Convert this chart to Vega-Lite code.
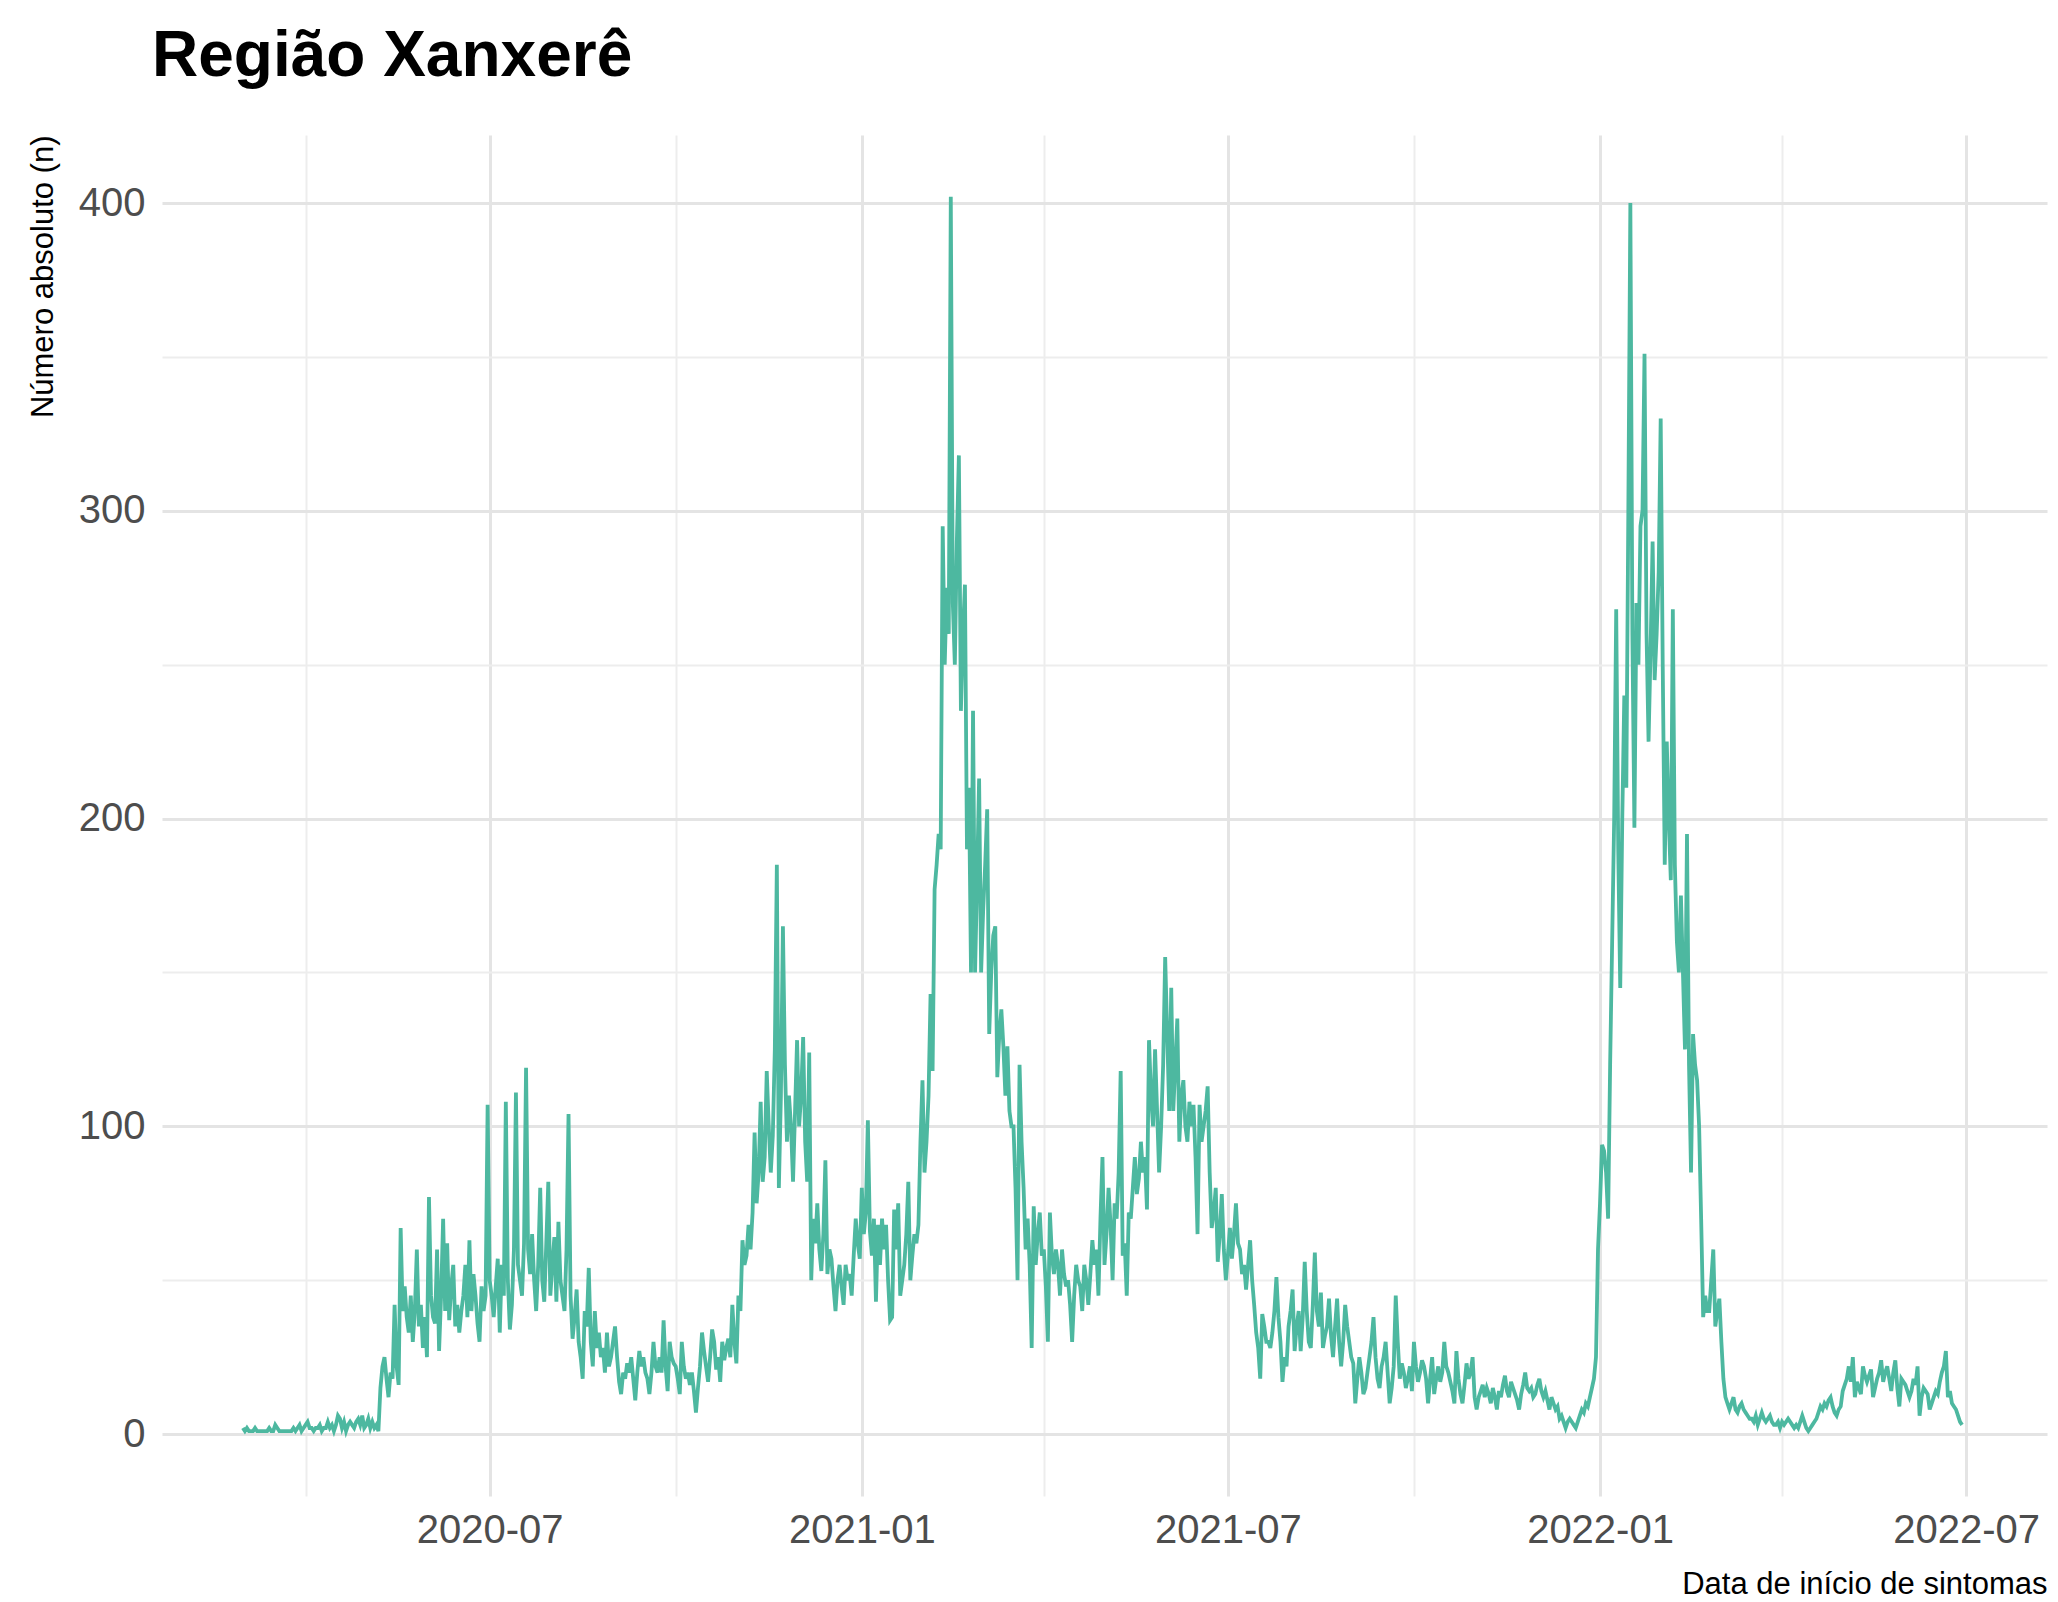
{
"$schema": "https://vega.github.io/schema/vega-lite/v6.json",
"width": 1885, "height": 1361,
"autosize": {"type": "none"},
"padding": {"left": 162, "top": 135, "right": 11, "bottom": 106},
"background": "white",
"title": {"text": "Região Xanxerê", "anchor": "start", "frame": "group", "font": "Liberation Sans Narrow, Liberation Sans, Arial, sans-serif", "fontSize": 64, "fontWeight": "bold", "color": "#000000", "offset": 55, "dy": 60, "baseline": "alphabetic", "dx": -10},
"config": {"view": {"stroke": null}, "axis": {"domain": false, "ticks": false, "tickSize": 0, "labelFont": "Liberation Sans Narrow, Liberation Sans, Arial, sans-serif", "titleFont": "Liberation Sans Narrow, Liberation Sans, Arial, sans-serif", "labelColor": "#4d4d4d", "titleColor": "#000000", "titleFontWeight": "normal", "labelFontSize": 40, "titleFontSize": 31}},
"data": {"values": [
{"d":"2020-03-01","n":2},{"d":"2020-03-02","n":1},{"d":"2020-03-03","n":2},{"d":"2020-03-04","n":1},{"d":"2020-03-05","n":1},{"d":"2020-03-06","n":1},{"d":"2020-03-07","n":2},{"d":"2020-03-08","n":1},{"d":"2020-03-09","n":1},{"d":"2020-03-10","n":1},{"d":"2020-03-11","n":1},{"d":"2020-03-12","n":1},{"d":"2020-03-13","n":1},{"d":"2020-03-14","n":2},{"d":"2020-03-15","n":1},{"d":"2020-03-16","n":1},{"d":"2020-03-17","n":3},{"d":"2020-03-18","n":2},{"d":"2020-03-19","n":1},{"d":"2020-03-20","n":1},{"d":"2020-03-21","n":1},{"d":"2020-03-22","n":1},{"d":"2020-03-23","n":1},{"d":"2020-03-24","n":1},{"d":"2020-03-25","n":1},{"d":"2020-03-26","n":2},{"d":"2020-03-27","n":1},{"d":"2020-03-28","n":2},{"d":"2020-03-29","n":3},{"d":"2020-03-30","n":1},{"d":"2020-03-31","n":2},
{"d":"2020-04-01","n":3},{"d":"2020-04-02","n":4},{"d":"2020-04-03","n":2},{"d":"2020-04-04","n":2},{"d":"2020-04-05","n":1},{"d":"2020-04-06","n":2},{"d":"2020-04-07","n":2},{"d":"2020-04-08","n":3},{"d":"2020-04-09","n":1},{"d":"2020-04-10","n":2},{"d":"2020-04-11","n":2},{"d":"2020-04-12","n":4},{"d":"2020-04-13","n":2},{"d":"2020-04-14","n":3},{"d":"2020-04-15","n":1},{"d":"2020-04-16","n":3},{"d":"2020-04-17","n":6},{"d":"2020-04-18","n":5},{"d":"2020-04-19","n":2},{"d":"2020-04-20","n":4},{"d":"2020-04-21","n":1},{"d":"2020-04-22","n":3},{"d":"2020-04-23","n":4},{"d":"2020-04-24","n":3},{"d":"2020-04-25","n":2},{"d":"2020-04-26","n":4},{"d":"2020-04-27","n":5},{"d":"2020-04-28","n":3},{"d":"2020-04-29","n":6},{"d":"2020-04-30","n":2},
{"d":"2020-05-01","n":3},{"d":"2020-05-02","n":5},{"d":"2020-05-03","n":2},{"d":"2020-05-04","n":4},{"d":"2020-05-05","n":2},{"d":"2020-05-06","n":3},{"d":"2020-05-07","n":1},{"d":"2020-05-08","n":15},{"d":"2020-05-09","n":22},{"d":"2020-05-10","n":25},{"d":"2020-05-11","n":18},{"d":"2020-05-12","n":12},{"d":"2020-05-13","n":20},{"d":"2020-05-14","n":18},{"d":"2020-05-15","n":42},{"d":"2020-05-16","n":22},{"d":"2020-05-17","n":16},{"d":"2020-05-18","n":67},{"d":"2020-05-19","n":40},{"d":"2020-05-20","n":48},{"d":"2020-05-21","n":38},{"d":"2020-05-22","n":33},{"d":"2020-05-23","n":45},{"d":"2020-05-24","n":30},{"d":"2020-05-25","n":40},{"d":"2020-05-26","n":60},{"d":"2020-05-27","n":35},{"d":"2020-05-28","n":42},{"d":"2020-05-29","n":28},{"d":"2020-05-30","n":38},{"d":"2020-05-31","n":25},
{"d":"2020-06-01","n":77},{"d":"2020-06-02","n":45},{"d":"2020-06-03","n":38},{"d":"2020-06-04","n":36},{"d":"2020-06-05","n":60},{"d":"2020-06-06","n":27},{"d":"2020-06-07","n":45},{"d":"2020-06-08","n":70},{"d":"2020-06-09","n":40},{"d":"2020-06-10","n":62},{"d":"2020-06-11","n":37},{"d":"2020-06-12","n":48},{"d":"2020-06-13","n":55},{"d":"2020-06-14","n":35},{"d":"2020-06-15","n":42},{"d":"2020-06-16","n":33},{"d":"2020-06-17","n":40},{"d":"2020-06-18","n":45},{"d":"2020-06-19","n":55},{"d":"2020-06-20","n":38},{"d":"2020-06-21","n":63},{"d":"2020-06-22","n":40},{"d":"2020-06-23","n":52},{"d":"2020-06-24","n":45},{"d":"2020-06-25","n":36},{"d":"2020-06-26","n":30},{"d":"2020-06-27","n":48},{"d":"2020-06-28","n":40},{"d":"2020-06-29","n":45},{"d":"2020-06-30","n":107},
{"d":"2020-07-01","n":50},{"d":"2020-07-02","n":45},{"d":"2020-07-03","n":38},{"d":"2020-07-04","n":48},{"d":"2020-07-05","n":57},{"d":"2020-07-06","n":33},{"d":"2020-07-07","n":55},{"d":"2020-07-08","n":45},{"d":"2020-07-09","n":108},{"d":"2020-07-10","n":50},{"d":"2020-07-11","n":34},{"d":"2020-07-12","n":42},{"d":"2020-07-13","n":60},{"d":"2020-07-14","n":111},{"d":"2020-07-15","n":55},{"d":"2020-07-16","n":50},{"d":"2020-07-17","n":45},{"d":"2020-07-18","n":62},{"d":"2020-07-19","n":119},{"d":"2020-07-20","n":60},{"d":"2020-07-21","n":52},{"d":"2020-07-22","n":65},{"d":"2020-07-23","n":50},{"d":"2020-07-24","n":40},{"d":"2020-07-25","n":55},{"d":"2020-07-26","n":80},{"d":"2020-07-27","n":50},{"d":"2020-07-28","n":43},{"d":"2020-07-29","n":62},{"d":"2020-07-30","n":82},{"d":"2020-07-31","n":45},
{"d":"2020-08-01","n":55},{"d":"2020-08-02","n":64},{"d":"2020-08-03","n":43},{"d":"2020-08-04","n":69},{"d":"2020-08-05","n":50},{"d":"2020-08-06","n":45},{"d":"2020-08-07","n":40},{"d":"2020-08-08","n":60},{"d":"2020-08-09","n":104},{"d":"2020-08-10","n":45},{"d":"2020-08-11","n":31},{"d":"2020-08-12","n":38},{"d":"2020-08-13","n":47},{"d":"2020-08-14","n":30},{"d":"2020-08-15","n":25},{"d":"2020-08-16","n":18},{"d":"2020-08-17","n":40},{"d":"2020-08-18","n":35},{"d":"2020-08-19","n":54},{"d":"2020-08-20","n":30},{"d":"2020-08-21","n":22},{"d":"2020-08-22","n":40},{"d":"2020-08-23","n":28},{"d":"2020-08-24","n":33},{"d":"2020-08-25","n":25},{"d":"2020-08-26","n":28},{"d":"2020-08-27","n":20},{"d":"2020-08-28","n":33},{"d":"2020-08-29","n":22},{"d":"2020-08-30","n":25},{"d":"2020-08-31","n":30},
{"d":"2020-09-01","n":35},{"d":"2020-09-02","n":25},{"d":"2020-09-03","n":17},{"d":"2020-09-04","n":13},{"d":"2020-09-05","n":20},{"d":"2020-09-06","n":18},{"d":"2020-09-07","n":23},{"d":"2020-09-08","n":20},{"d":"2020-09-09","n":25},{"d":"2020-09-10","n":18},{"d":"2020-09-11","n":11},{"d":"2020-09-12","n":20},{"d":"2020-09-13","n":27},{"d":"2020-09-14","n":22},{"d":"2020-09-15","n":25},{"d":"2020-09-16","n":20},{"d":"2020-09-17","n":18},{"d":"2020-09-18","n":13},{"d":"2020-09-19","n":20},{"d":"2020-09-20","n":30},{"d":"2020-09-21","n":22},{"d":"2020-09-22","n":20},{"d":"2020-09-23","n":25},{"d":"2020-09-24","n":20},{"d":"2020-09-25","n":37},{"d":"2020-09-26","n":22},{"d":"2020-09-27","n":14},{"d":"2020-09-28","n":30},{"d":"2020-09-29","n":25},{"d":"2020-09-30","n":23},
{"d":"2020-10-01","n":22},{"d":"2020-10-02","n":18},{"d":"2020-10-03","n":13},{"d":"2020-10-04","n":30},{"d":"2020-10-05","n":22},{"d":"2020-10-06","n":18},{"d":"2020-10-07","n":20},{"d":"2020-10-08","n":16},{"d":"2020-10-09","n":20},{"d":"2020-10-10","n":14},{"d":"2020-10-11","n":7},{"d":"2020-10-12","n":15},{"d":"2020-10-13","n":22},{"d":"2020-10-14","n":33},{"d":"2020-10-15","n":27},{"d":"2020-10-16","n":22},{"d":"2020-10-17","n":17},{"d":"2020-10-18","n":25},{"d":"2020-10-19","n":34},{"d":"2020-10-20","n":30},{"d":"2020-10-21","n":21},{"d":"2020-10-22","n":25},{"d":"2020-10-23","n":17},{"d":"2020-10-24","n":30},{"d":"2020-10-25","n":24},{"d":"2020-10-26","n":28},{"d":"2020-10-27","n":31},{"d":"2020-10-28","n":25},{"d":"2020-10-29","n":42},{"d":"2020-10-30","n":30},{"d":"2020-10-31","n":23},
{"d":"2020-11-01","n":45},{"d":"2020-11-02","n":40},{"d":"2020-11-03","n":63},{"d":"2020-11-04","n":55},{"d":"2020-11-05","n":58},{"d":"2020-11-06","n":68},{"d":"2020-11-07","n":60},{"d":"2020-11-08","n":72},{"d":"2020-11-09","n":98},{"d":"2020-11-10","n":75},{"d":"2020-11-11","n":85},{"d":"2020-11-12","n":108},{"d":"2020-11-13","n":82},{"d":"2020-11-14","n":90},{"d":"2020-11-15","n":118},{"d":"2020-11-16","n":100},{"d":"2020-11-17","n":85},{"d":"2020-11-18","n":97},{"d":"2020-11-19","n":125},{"d":"2020-11-20","n":185},{"d":"2020-11-21","n":80},{"d":"2020-11-22","n":110},{"d":"2020-11-23","n":165},{"d":"2020-11-24","n":120},{"d":"2020-11-25","n":95},{"d":"2020-11-26","n":110},{"d":"2020-11-27","n":100},{"d":"2020-11-28","n":82},{"d":"2020-11-29","n":105},{"d":"2020-11-30","n":128},
{"d":"2020-12-01","n":100},{"d":"2020-12-02","n":110},{"d":"2020-12-03","n":129},{"d":"2020-12-04","n":95},{"d":"2020-12-05","n":82},{"d":"2020-12-06","n":124},{"d":"2020-12-07","n":50},{"d":"2020-12-08","n":70},{"d":"2020-12-09","n":62},{"d":"2020-12-10","n":75},{"d":"2020-12-11","n":60},{"d":"2020-12-12","n":53},{"d":"2020-12-13","n":65},{"d":"2020-12-14","n":89},{"d":"2020-12-15","n":52},{"d":"2020-12-16","n":60},{"d":"2020-12-17","n":57},{"d":"2020-12-18","n":48},{"d":"2020-12-19","n":40},{"d":"2020-12-20","n":50},{"d":"2020-12-21","n":55},{"d":"2020-12-22","n":48},{"d":"2020-12-23","n":42},{"d":"2020-12-24","n":55},{"d":"2020-12-25","n":50},{"d":"2020-12-26","n":52},{"d":"2020-12-27","n":45},{"d":"2020-12-28","n":58},{"d":"2020-12-29","n":70},{"d":"2020-12-30","n":62},{"d":"2020-12-31","n":57},
{"d":"2021-01-01","n":80},{"d":"2021-01-02","n":65},{"d":"2021-01-03","n":72},{"d":"2021-01-04","n":102},{"d":"2021-01-05","n":66},{"d":"2021-01-06","n":58},{"d":"2021-01-07","n":70},{"d":"2021-01-08","n":43},{"d":"2021-01-09","n":68},{"d":"2021-01-10","n":55},{"d":"2021-01-11","n":70},{"d":"2021-01-12","n":60},{"d":"2021-01-13","n":68},{"d":"2021-01-14","n":50},{"d":"2021-01-15","n":37},{"d":"2021-01-16","n":38},{"d":"2021-01-17","n":73},{"d":"2021-01-18","n":60},{"d":"2021-01-19","n":75},{"d":"2021-01-20","n":45},{"d":"2021-01-21","n":50},{"d":"2021-01-22","n":55},{"d":"2021-01-23","n":65},{"d":"2021-01-24","n":82},{"d":"2021-01-25","n":50},{"d":"2021-01-26","n":58},{"d":"2021-01-27","n":65},{"d":"2021-01-28","n":62},{"d":"2021-01-29","n":68},{"d":"2021-01-30","n":95},{"d":"2021-01-31","n":115},
{"d":"2021-02-01","n":85},{"d":"2021-02-02","n":95},{"d":"2021-02-03","n":110},{"d":"2021-02-04","n":143},{"d":"2021-02-05","n":118},{"d":"2021-02-06","n":177},{"d":"2021-02-07","n":185},{"d":"2021-02-08","n":195},{"d":"2021-02-09","n":190},{"d":"2021-02-10","n":295},{"d":"2021-02-11","n":250},{"d":"2021-02-12","n":275},{"d":"2021-02-13","n":260},{"d":"2021-02-14","n":402},{"d":"2021-02-15","n":270},{"d":"2021-02-16","n":250},{"d":"2021-02-17","n":290},{"d":"2021-02-18","n":318},{"d":"2021-02-19","n":235},{"d":"2021-02-20","n":260},{"d":"2021-02-21","n":276},{"d":"2021-02-22","n":190},{"d":"2021-02-23","n":210},{"d":"2021-02-24","n":150},{"d":"2021-02-25","n":235},{"d":"2021-02-26","n":150},{"d":"2021-02-27","n":180},{"d":"2021-02-28","n":213},
{"d":"2021-03-01","n":150},{"d":"2021-03-02","n":170},{"d":"2021-03-03","n":185},{"d":"2021-03-04","n":203},{"d":"2021-03-05","n":130},{"d":"2021-03-06","n":150},{"d":"2021-03-07","n":162},{"d":"2021-03-08","n":165},{"d":"2021-03-09","n":116},{"d":"2021-03-10","n":130},{"d":"2021-03-11","n":138},{"d":"2021-03-12","n":126},{"d":"2021-03-13","n":110},{"d":"2021-03-14","n":126},{"d":"2021-03-15","n":105},{"d":"2021-03-16","n":100},{"d":"2021-03-17","n":100},{"d":"2021-03-18","n":80},{"d":"2021-03-19","n":50},{"d":"2021-03-20","n":120},{"d":"2021-03-21","n":95},{"d":"2021-03-22","n":80},{"d":"2021-03-23","n":60},{"d":"2021-03-24","n":70},{"d":"2021-03-25","n":55},{"d":"2021-03-26","n":28},{"d":"2021-03-27","n":74},{"d":"2021-03-28","n":55},{"d":"2021-03-29","n":65},{"d":"2021-03-30","n":72},{"d":"2021-03-31","n":58},
{"d":"2021-04-01","n":60},{"d":"2021-04-02","n":48},{"d":"2021-04-03","n":30},{"d":"2021-04-04","n":72},{"d":"2021-04-05","n":58},{"d":"2021-04-06","n":52},{"d":"2021-04-07","n":60},{"d":"2021-04-08","n":55},{"d":"2021-04-09","n":45},{"d":"2021-04-10","n":60},{"d":"2021-04-11","n":52},{"d":"2021-04-12","n":48},{"d":"2021-04-13","n":50},{"d":"2021-04-14","n":42},{"d":"2021-04-15","n":30},{"d":"2021-04-16","n":45},{"d":"2021-04-17","n":55},{"d":"2021-04-18","n":50},{"d":"2021-04-19","n":48},{"d":"2021-04-20","n":40},{"d":"2021-04-21","n":55},{"d":"2021-04-22","n":50},{"d":"2021-04-23","n":42},{"d":"2021-04-24","n":52},{"d":"2021-04-25","n":63},{"d":"2021-04-26","n":55},{"d":"2021-04-27","n":60},{"d":"2021-04-28","n":45},{"d":"2021-04-29","n":70},{"d":"2021-04-30","n":90},
{"d":"2021-05-01","n":55},{"d":"2021-05-02","n":65},{"d":"2021-05-03","n":80},{"d":"2021-05-04","n":68},{"d":"2021-05-05","n":50},{"d":"2021-05-06","n":75},{"d":"2021-05-07","n":70},{"d":"2021-05-08","n":85},{"d":"2021-05-09","n":118},{"d":"2021-05-10","n":58},{"d":"2021-05-11","n":62},{"d":"2021-05-12","n":45},{"d":"2021-05-13","n":72},{"d":"2021-05-14","n":70},{"d":"2021-05-15","n":80},{"d":"2021-05-16","n":90},{"d":"2021-05-17","n":78},{"d":"2021-05-18","n":83},{"d":"2021-05-19","n":95},{"d":"2021-05-20","n":85},{"d":"2021-05-21","n":90},{"d":"2021-05-22","n":73},{"d":"2021-05-23","n":128},{"d":"2021-05-24","n":110},{"d":"2021-05-25","n":100},{"d":"2021-05-26","n":125},{"d":"2021-05-27","n":105},{"d":"2021-05-28","n":85},{"d":"2021-05-29","n":100},{"d":"2021-05-30","n":120},{"d":"2021-05-31","n":155},
{"d":"2021-06-01","n":130},{"d":"2021-06-02","n":105},{"d":"2021-06-03","n":145},{"d":"2021-06-04","n":105},{"d":"2021-06-05","n":120},{"d":"2021-06-06","n":135},{"d":"2021-06-07","n":95},{"d":"2021-06-08","n":110},{"d":"2021-06-09","n":115},{"d":"2021-06-10","n":100},{"d":"2021-06-11","n":95},{"d":"2021-06-12","n":108},{"d":"2021-06-13","n":100},{"d":"2021-06-14","n":107},{"d":"2021-06-15","n":90},{"d":"2021-06-16","n":65},{"d":"2021-06-17","n":107},{"d":"2021-06-18","n":95},{"d":"2021-06-19","n":100},{"d":"2021-06-20","n":105},{"d":"2021-06-21","n":113},{"d":"2021-06-22","n":85},{"d":"2021-06-23","n":67},{"d":"2021-06-24","n":72},{"d":"2021-06-25","n":80},{"d":"2021-06-26","n":56},{"d":"2021-06-27","n":65},{"d":"2021-06-28","n":78},{"d":"2021-06-29","n":60},{"d":"2021-06-30","n":50},
{"d":"2021-07-01","n":58},{"d":"2021-07-02","n":67},{"d":"2021-07-03","n":57},{"d":"2021-07-04","n":65},{"d":"2021-07-05","n":75},{"d":"2021-07-06","n":62},{"d":"2021-07-07","n":60},{"d":"2021-07-08","n":52},{"d":"2021-07-09","n":55},{"d":"2021-07-10","n":47},{"d":"2021-07-11","n":55},{"d":"2021-07-12","n":63},{"d":"2021-07-13","n":50},{"d":"2021-07-14","n":42},{"d":"2021-07-15","n":33},{"d":"2021-07-16","n":28},{"d":"2021-07-17","n":18},{"d":"2021-07-18","n":39},{"d":"2021-07-19","n":35},{"d":"2021-07-20","n":30},{"d":"2021-07-21","n":30},{"d":"2021-07-22","n":28},{"d":"2021-07-23","n":33},{"d":"2021-07-24","n":40},{"d":"2021-07-25","n":51},{"d":"2021-07-26","n":38},{"d":"2021-07-27","n":30},{"d":"2021-07-28","n":17},{"d":"2021-07-29","n":25},{"d":"2021-07-30","n":22},{"d":"2021-07-31","n":35},
{"d":"2021-08-01","n":40},{"d":"2021-08-02","n":47},{"d":"2021-08-03","n":27},{"d":"2021-08-04","n":35},{"d":"2021-08-05","n":40},{"d":"2021-08-06","n":27},{"d":"2021-08-07","n":38},{"d":"2021-08-08","n":56},{"d":"2021-08-09","n":40},{"d":"2021-08-10","n":30},{"d":"2021-08-11","n":28},{"d":"2021-08-12","n":42},{"d":"2021-08-13","n":59},{"d":"2021-08-14","n":40},{"d":"2021-08-15","n":35},{"d":"2021-08-16","n":46},{"d":"2021-08-17","n":28},{"d":"2021-08-18","n":32},{"d":"2021-08-19","n":35},{"d":"2021-08-20","n":44},{"d":"2021-08-21","n":32},{"d":"2021-08-22","n":25},{"d":"2021-08-23","n":35},{"d":"2021-08-24","n":44},{"d":"2021-08-25","n":30},{"d":"2021-08-26","n":22},{"d":"2021-08-27","n":30},{"d":"2021-08-28","n":42},{"d":"2021-08-29","n":35},{"d":"2021-08-30","n":30},{"d":"2021-08-31","n":25},
{"d":"2021-09-01","n":23},{"d":"2021-09-02","n":10},{"d":"2021-09-03","n":18},{"d":"2021-09-04","n":25},{"d":"2021-09-05","n":20},{"d":"2021-09-06","n":13},{"d":"2021-09-07","n":15},{"d":"2021-09-08","n":20},{"d":"2021-09-09","n":25},{"d":"2021-09-10","n":30},{"d":"2021-09-11","n":38},{"d":"2021-09-12","n":25},{"d":"2021-09-13","n":18},{"d":"2021-09-14","n":15},{"d":"2021-09-15","n":22},{"d":"2021-09-16","n":25},{"d":"2021-09-17","n":30},{"d":"2021-09-18","n":20},{"d":"2021-09-19","n":10},{"d":"2021-09-20","n":15},{"d":"2021-09-21","n":22},{"d":"2021-09-22","n":45},{"d":"2021-09-23","n":30},{"d":"2021-09-24","n":18},{"d":"2021-09-25","n":23},{"d":"2021-09-26","n":20},{"d":"2021-09-27","n":15},{"d":"2021-09-28","n":18},{"d":"2021-09-29","n":22},{"d":"2021-09-30","n":14},
{"d":"2021-10-01","n":30},{"d":"2021-10-02","n":22},{"d":"2021-10-03","n":17},{"d":"2021-10-04","n":20},{"d":"2021-10-05","n":24},{"d":"2021-10-06","n":22},{"d":"2021-10-07","n":18},{"d":"2021-10-08","n":10},{"d":"2021-10-09","n":18},{"d":"2021-10-10","n":25},{"d":"2021-10-11","n":13},{"d":"2021-10-12","n":18},{"d":"2021-10-13","n":22},{"d":"2021-10-14","n":17},{"d":"2021-10-15","n":20},{"d":"2021-10-16","n":30},{"d":"2021-10-17","n":22},{"d":"2021-10-18","n":20},{"d":"2021-10-19","n":17},{"d":"2021-10-20","n":14},{"d":"2021-10-21","n":10},{"d":"2021-10-22","n":27},{"d":"2021-10-23","n":18},{"d":"2021-10-24","n":13},{"d":"2021-10-25","n":10},{"d":"2021-10-26","n":16},{"d":"2021-10-27","n":23},{"d":"2021-10-28","n":18},{"d":"2021-10-29","n":20},{"d":"2021-10-30","n":25},{"d":"2021-10-31","n":12},
{"d":"2021-11-01","n":8},{"d":"2021-11-02","n":12},{"d":"2021-11-03","n":14},{"d":"2021-11-04","n":16},{"d":"2021-11-05","n":12},{"d":"2021-11-06","n":15},{"d":"2021-11-07","n":13},{"d":"2021-11-08","n":10},{"d":"2021-11-09","n":15},{"d":"2021-11-10","n":12},{"d":"2021-11-11","n":8},{"d":"2021-11-12","n":14},{"d":"2021-11-13","n":12},{"d":"2021-11-14","n":16},{"d":"2021-11-15","n":19},{"d":"2021-11-16","n":14},{"d":"2021-11-17","n":12},{"d":"2021-11-18","n":17},{"d":"2021-11-19","n":15},{"d":"2021-11-20","n":13},{"d":"2021-11-21","n":11},{"d":"2021-11-22","n":8},{"d":"2021-11-23","n":13},{"d":"2021-11-24","n":16},{"d":"2021-11-25","n":20},{"d":"2021-11-26","n":15},{"d":"2021-11-27","n":14},{"d":"2021-11-28","n":15},{"d":"2021-11-29","n":12},{"d":"2021-11-30","n":13},
{"d":"2021-12-01","n":16},{"d":"2021-12-02","n":18},{"d":"2021-12-03","n":14},{"d":"2021-12-04","n":12},{"d":"2021-12-05","n":14},{"d":"2021-12-06","n":11},{"d":"2021-12-07","n":8},{"d":"2021-12-08","n":12},{"d":"2021-12-09","n":10},{"d":"2021-12-10","n":8},{"d":"2021-12-11","n":9},{"d":"2021-12-12","n":5},{"d":"2021-12-13","n":6},{"d":"2021-12-14","n":4},{"d":"2021-12-15","n":2},{"d":"2021-12-16","n":4},{"d":"2021-12-17","n":5},{"d":"2021-12-18","n":4},{"d":"2021-12-19","n":3},{"d":"2021-12-20","n":2},{"d":"2021-12-21","n":4},{"d":"2021-12-22","n":6},{"d":"2021-12-23","n":8},{"d":"2021-12-24","n":7},{"d":"2021-12-25","n":10},{"d":"2021-12-26","n":9},{"d":"2021-12-27","n":12},{"d":"2021-12-28","n":15},{"d":"2021-12-29","n":18},{"d":"2021-12-30","n":25},{"d":"2021-12-31","n":60},
{"d":"2022-01-01","n":75},{"d":"2022-01-02","n":94},{"d":"2022-01-03","n":92},{"d":"2022-01-04","n":85},{"d":"2022-01-05","n":70},{"d":"2022-01-06","n":120},{"d":"2022-01-07","n":160},{"d":"2022-01-08","n":200},{"d":"2022-01-09","n":268},{"d":"2022-01-10","n":190},{"d":"2022-01-11","n":145},{"d":"2022-01-12","n":200},{"d":"2022-01-13","n":240},{"d":"2022-01-14","n":210},{"d":"2022-01-15","n":300},{"d":"2022-01-16","n":400},{"d":"2022-01-17","n":260},{"d":"2022-01-18","n":197},{"d":"2022-01-19","n":270},{"d":"2022-01-20","n":250},{"d":"2022-01-21","n":295},{"d":"2022-01-22","n":300},{"d":"2022-01-23","n":351},{"d":"2022-01-24","n":260},{"d":"2022-01-25","n":225},{"d":"2022-01-26","n":255},{"d":"2022-01-27","n":290},{"d":"2022-01-28","n":245},{"d":"2022-01-29","n":260},{"d":"2022-01-30","n":280},{"d":"2022-01-31","n":330},
{"d":"2022-02-01","n":250},{"d":"2022-02-02","n":185},{"d":"2022-02-03","n":225},{"d":"2022-02-04","n":200},{"d":"2022-02-05","n":180},{"d":"2022-02-06","n":268},{"d":"2022-02-07","n":185},{"d":"2022-02-08","n":160},{"d":"2022-02-09","n":150},{"d":"2022-02-10","n":175},{"d":"2022-02-11","n":150},{"d":"2022-02-12","n":125},{"d":"2022-02-13","n":195},{"d":"2022-02-14","n":120},{"d":"2022-02-15","n":85},{"d":"2022-02-16","n":130},{"d":"2022-02-17","n":120},{"d":"2022-02-18","n":115},{"d":"2022-02-19","n":100},{"d":"2022-02-20","n":70},{"d":"2022-02-21","n":38},{"d":"2022-02-22","n":45},{"d":"2022-02-23","n":40},{"d":"2022-02-24","n":40},{"d":"2022-02-25","n":50},{"d":"2022-02-26","n":60},{"d":"2022-02-27","n":35},{"d":"2022-02-28","n":40},
{"d":"2022-03-01","n":44},{"d":"2022-03-02","n":30},{"d":"2022-03-03","n":18},{"d":"2022-03-04","n":12},{"d":"2022-03-05","n":10},{"d":"2022-03-06","n":8},{"d":"2022-03-07","n":10},{"d":"2022-03-08","n":12},{"d":"2022-03-09","n":8},{"d":"2022-03-10","n":7},{"d":"2022-03-11","n":9},{"d":"2022-03-12","n":10},{"d":"2022-03-13","n":8},{"d":"2022-03-14","n":7},{"d":"2022-03-15","n":6},{"d":"2022-03-16","n":5},{"d":"2022-03-17","n":5},{"d":"2022-03-18","n":4},{"d":"2022-03-19","n":6},{"d":"2022-03-20","n":3},{"d":"2022-03-21","n":5},{"d":"2022-03-22","n":7},{"d":"2022-03-23","n":5},{"d":"2022-03-24","n":4},{"d":"2022-03-25","n":5},{"d":"2022-03-26","n":6},{"d":"2022-03-27","n":4},{"d":"2022-03-28","n":3},{"d":"2022-03-29","n":3},{"d":"2022-03-30","n":4},{"d":"2022-03-31","n":2},
{"d":"2022-04-01","n":4},{"d":"2022-04-02","n":3},{"d":"2022-04-03","n":4},{"d":"2022-04-04","n":5},{"d":"2022-04-05","n":4},{"d":"2022-04-06","n":3},{"d":"2022-04-07","n":2},{"d":"2022-04-08","n":3},{"d":"2022-04-09","n":2},{"d":"2022-04-10","n":4},{"d":"2022-04-11","n":6},{"d":"2022-04-12","n":4},{"d":"2022-04-13","n":2},{"d":"2022-04-14","n":1},{"d":"2022-04-15","n":2},{"d":"2022-04-16","n":3},{"d":"2022-04-17","n":4},{"d":"2022-04-18","n":5},{"d":"2022-04-19","n":7},{"d":"2022-04-20","n":9},{"d":"2022-04-21","n":8},{"d":"2022-04-22","n":10},{"d":"2022-04-23","n":9},{"d":"2022-04-24","n":11},{"d":"2022-04-25","n":12},{"d":"2022-04-26","n":9},{"d":"2022-04-27","n":7},{"d":"2022-04-28","n":6},{"d":"2022-04-29","n":8},{"d":"2022-04-30","n":9},
{"d":"2022-05-01","n":14},{"d":"2022-05-02","n":16},{"d":"2022-05-03","n":18},{"d":"2022-05-04","n":22},{"d":"2022-05-05","n":17},{"d":"2022-05-06","n":25},{"d":"2022-05-07","n":12},{"d":"2022-05-08","n":17},{"d":"2022-05-09","n":15},{"d":"2022-05-10","n":13},{"d":"2022-05-11","n":22},{"d":"2022-05-12","n":19},{"d":"2022-05-13","n":17},{"d":"2022-05-14","n":19},{"d":"2022-05-15","n":21},{"d":"2022-05-16","n":12},{"d":"2022-05-17","n":15},{"d":"2022-05-18","n":18},{"d":"2022-05-19","n":20},{"d":"2022-05-20","n":24},{"d":"2022-05-21","n":17},{"d":"2022-05-22","n":20},{"d":"2022-05-23","n":22},{"d":"2022-05-24","n":18},{"d":"2022-05-25","n":14},{"d":"2022-05-26","n":20},{"d":"2022-05-27","n":24},{"d":"2022-05-28","n":15},{"d":"2022-05-29","n":9},{"d":"2022-05-30","n":18},{"d":"2022-05-31","n":17},
{"d":"2022-06-01","n":16},{"d":"2022-06-02","n":14},{"d":"2022-06-03","n":12},{"d":"2022-06-04","n":14},{"d":"2022-06-05","n":18},{"d":"2022-06-06","n":16},{"d":"2022-06-07","n":22},{"d":"2022-06-08","n":6},{"d":"2022-06-09","n":12},{"d":"2022-06-10","n":15},{"d":"2022-06-11","n":14},{"d":"2022-06-12","n":13},{"d":"2022-06-13","n":8},{"d":"2022-06-14","n":10},{"d":"2022-06-15","n":12},{"d":"2022-06-16","n":14},{"d":"2022-06-17","n":13},{"d":"2022-06-18","n":17},{"d":"2022-06-19","n":20},{"d":"2022-06-20","n":22},{"d":"2022-06-21","n":27},{"d":"2022-06-22","n":12},{"d":"2022-06-23","n":14},{"d":"2022-06-24","n":10},{"d":"2022-06-25","n":9},{"d":"2022-06-26","n":8},{"d":"2022-06-27","n":6},{"d":"2022-06-28","n":4},{"d":"2022-06-29","n":3}
]},
"mark": {"type": "line", "color": "#4db8a0", "strokeWidth": 3.8, "interpolate": "linear"},
"encoding": {
  "x": {"field": "d", "type": "temporal",
    "scale": {"type": "utc", "domain": [{"year": 2020, "month": 1, "date": 21, "utc": true}, {"year": 2022, "month": 8, "date": 10, "utc": true}]},
    "axis": {
      "values": [{"year": 2020, "month": 4, "date": 1, "utc": true}, {"year": 2020, "month": 7, "date": 1, "utc": true}, {"year": 2020, "month": 10, "date": 1, "utc": true}, {"year": 2021, "month": 1, "date": 1, "utc": true}, {"year": 2021, "month": 4, "date": 1, "utc": true}, {"year": 2021, "month": 7, "date": 1, "utc": true}, {"year": 2021, "month": 10, "date": 1, "utc": true}, {"year": 2022, "month": 1, "date": 1, "utc": true}, {"year": 2022, "month": 4, "date": 1, "utc": true}, {"year": 2022, "month": 7, "date": 1, "utc": true}],
      "labelExpr": "utcmonth(datum.value) % 6 == 0 ? utcFormat(datum.value, '%Y-%m') : ''",
      "labelOverlap": false, "labelFlush": false, "labelPadding": 14,
      "gridWidth": {"condition": {"test": "utcmonth(datum.value) % 6 == 0", "value": 3}, "value": 2},
      "gridColor": {"condition": {"test": "utcmonth(datum.value) % 6 == 0", "value": "#e4e4e4"}, "value": "#ededed"},
      "title": "Data de início de sintomas", "titleAnchor": "end", "titleAlign": "right", "titleBaseline": "alphabetic", "titleX": 1885, "titleY": 97
    }},
  "y": {"field": "n", "type": "quantitative",
    "scale": {"domain": [-20.1, 422.1], "nice": false, "zero": false},
    "axis": {
      "values": [0, 50, 100, 150, 200, 250, 300, 350, 400],
      "labelExpr": "datum.value % 100 == 0 ? datum.label : ''",
      "labelOverlap": false, "labelPadding": 17,
      "gridWidth": {"condition": {"test": "datum.value % 100 == 0", "value": 3}, "value": 2},
      "gridColor": {"condition": {"test": "datum.value % 100 == 0", "value": "#e4e4e4"}, "value": "#ededed"},
      "title": "Número absoluto (n)", "titleAnchor": "end", "titleAlign": "right", "titleAngle": -90, "titleBaseline": "middle", "titleX": -119, "titleY": 0
    }}
}
}
